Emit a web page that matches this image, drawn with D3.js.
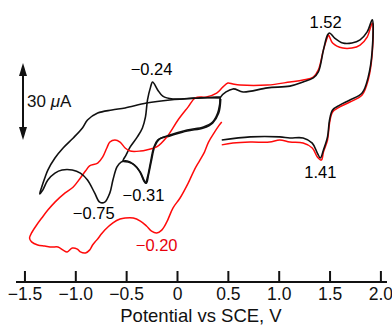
<!DOCTYPE html>
<html>
<head>
<meta charset="utf-8">
<script src="https://cdn.jsdelivr.net/npm/d3@7"></script>
<style>
  html, body { margin: 0; padding: 0; background: #fff; }
  svg { display: block; }
</style>
</head>
<body>
<svg id="chart" width="392" height="327"></svg>
<script>
// potential (V vs SCE) and current (uA) pairs

// black: full scan 0.45 -> -1.35 -> 1.92 -> 0.44 V
const blackFull = [
  [0.43, 16.8], [0.23, 16.4], [-0.07, 15.6], [-0.30, 14.4], [-0.51, 12.5], [-0.64, 11.7],
  [-0.78, 10.5], [-0.88, 7.8], [-0.93, 4.7], [-1.02, 0.8], [-1.12, -3.1], [-1.20, -7.0],
  [-1.27, -11.7], [-1.30, -14.8], [-1.33, -18.3], [-1.35, -21.0],
  [-1.32, -19.5], [-1.27, -15.6], [-1.20, -12.9], [-1.13, -11.7], [-1.03, -11.7], [-0.95, -12.9],
  [-0.88, -15.6], [-0.81, -20.6], [-0.76, -24.2], [-0.71, -24.2], [-0.66, -20.6], [-0.63, -15.6],
  [-0.59, -10.5], [-0.55, -8.6], [-0.49, -8.2], [-0.43, -9.4], [-0.37, -12.1], [-0.33, -15.6],
  [-0.31, -16.8], [-0.29, -14.4], [-0.26, -8.6], [-0.23, -3.1], [-0.19, 0], [-0.07, 1.9],
  [0.10, 3.9], [0.26, 5.1], [0.35, 7.0], [0.40, 10.5], [0.42, 14.0], [0.43, 16.8],
  [0.55, 19.9], [0.65, 18.7], [0.89, 20.3], [1.11, 21.0], [1.24, 22.6], [1.34, 24.2],
  [1.39, 26.5], [1.44, 35.1], [1.48, 40.9], [1.50, 41.7], [1.55, 39.7], [1.63, 37.8],
  [1.72, 37.8], [1.80, 39.0], [1.87, 42.1], [1.92, 46.8],
  [1.92, 35.1], [1.88, 24.5], [1.82, 18.3], [1.70, 15.6], [1.60, 13.6], [1.53, 11.7],
  [1.50, 7.8], [1.48, 1.2], [1.44, -3.9], [1.41, -7.0], [1.38, -5.1], [1.33, -1.2],
  [1.24, 0.8], [1.11, 0.8], [1.01, 1.2], [0.72, 1.2], [0.44, 0]
];

// black: short scan 0.43 -> -0.53 -> 0.43 V
const blackInner = [
  [0.43, 16.4], [0.20, 16.4], [-0.04, 16.0], [-0.14, 17.1], [-0.19, 19.5], [-0.24, 22.6],
  [-0.26, 20.6], [-0.29, 15.6], [-0.31, 9.0], [-0.34, 4.7], [-0.39, 1.2], [-0.46, -2.7],
  [-0.50, -5.8], [-0.53, -8.2], [-0.48, -8.6], [-0.42, -9.7], [-0.36, -12.5], [-0.32, -16.0],
  [-0.30, -16.8], [-0.28, -13.6], [-0.25, -7.8], [-0.22, -2.7], [-0.17, 0.4], [-0.07, 1.6],
  [0.10, 3.5], [0.26, 4.7], [0.35, 6.6], [0.41, 10.5], [0.43, 16.0]
];

// red: 0.44 -> -1.45 -> 1.92 -> 0.44 V
const redScan = [
  [0.44, 7.0], [0.41, 5.5], [0.37, 3.1], [0.31, -0.8], [0.27, -4.7], [0.22, -8.2],
  [0.17, -11.7], [0.11, -16.8], [0.03, -22.6], [-0.04, -26.5], [-0.10, -31.9], [-0.15, -35.1],
  [-0.20, -36.2], [-0.25, -35.5], [-0.30, -33.5], [-0.36, -31.6], [-0.43, -30.4], [-0.51, -30.4],
  [-0.56, -30.8], [-0.63, -32.3], [-0.71, -35.1], [-0.79, -39.0], [-0.83, -40.9], [-0.86, -42.9],
  [-0.90, -44.0], [-0.95, -43.6], [-0.98, -42.5], [-1.03, -42.1], [-1.08, -43.6], [-1.12, -42.9],
  [-1.17, -41.7], [-1.23, -41.7], [-1.30, -41.3], [-1.37, -40.9], [-1.43, -39.7], [-1.45, -38.2],
  [-1.43, -36.2], [-1.38, -33.1], [-1.33, -30.4], [-1.27, -27.3], [-1.20, -24.2], [-1.10, -20.6],
  [-1.02, -18.3], [-0.95, -14.8], [-0.90, -12.1], [-0.86, -10.1], [-0.78, -9.0], [-0.73, -6.6],
  [-0.69, -3.1], [-0.66, -0.8], [-0.61, 0], [-0.56, -0.8], [-0.51, -3.1], [-0.46, -4.3],
  [-0.36, -4.3], [-0.30, -3.9], [-0.20, -2.7], [-0.10, 1.2], [0.01, 7.8], [0.11, 12.9],
  [0.18, 16.4], [0.29, 16.8], [0.39, 18.3], [0.45, 20.6], [0.50, 22.2], [0.55, 21.8],
  [0.62, 21.4], [0.89, 21.4], [1.11, 22.6], [1.24, 23.4], [1.34, 24.5], [1.39, 27.3],
  [1.44, 35.1], [1.48, 40.1], [1.49, 40.9], [1.53, 37.8], [1.63, 35.8], [1.72, 35.8],
  [1.80, 37.0], [1.87, 40.1], [1.92, 45.6],
  [1.92, 33.9], [1.88, 23.4], [1.82, 17.5], [1.70, 14.8], [1.60, 12.9], [1.53, 10.9],
  [1.50, 6.6], [1.48, 0], [1.44, -4.7], [1.42, -7.8], [1.38, -6.6], [1.33, -3.1],
  [1.24, -1.2], [1.11, -0.8], [1.01, 0], [0.91, -0.8], [0.72, -0.8], [0.55, -1.2], [0.44, -1.9]
];

const tickValues = [-1.5, -1.0, -0.5, 0, 0.5, 1.0, 1.5, 2.0];
const tickLabels = ["\u22121.5", "\u22121.0", "\u22120.5", "0", "0.5", "1.0", "1.5", "2.0"];

// peak labels: text, potential, current of the peak, colour
const peakLabels = [
  { text: "\u22120.24", v: -0.24, i: 22.6, color: "#000", dx: -1, dy: -7 },
  { text: "\u22120.31", v: -0.31, i: -16.8, color: "#000", dx: -2, dy: 18 },
  { text: "\u22120.75", v: -0.75, i: -24.2, color: "#000", dx: -7, dy: 17 },
  { text: "\u22120.20", v: -0.20, i: -36.2, color: "#e8000b", dx: 0, dy: 18 },
  { text: "1.52", v: 1.50, i: 41.7, color: "#000", dx: -4, dy: -5 },
  { text: "1.41", v: 1.41, i: -7.0, color: "#000", dx: 0, dy: 20 }
];

const scaleBar = 30; // uA

const svg = d3.select("#chart");
const font = "'Liberation Sans', Arial, Helvetica, sans-serif";

const x = d3.scaleLinear().domain([-1.5, 2.0]).range([24.45, 380.4]);
const y = d3.scaleLinear().domain([-50, 50]).range([268.35, 11.65]);

const line = d3.line()
  .x(d => x(d[0]))
  .y(d => y(d[1]))
  .curve(d3.curveCatmullRom.alpha(0.5));

svg.append("path").datum(blackInner)
  .attr("fill", "none").attr("stroke", "#111").attr("stroke-width", 1.6)
  .attr("d", line);
svg.append("path").datum(redScan)
  .attr("fill", "none").attr("stroke", "#ff0a0a").attr("stroke-width", 1.5)
  .attr("d", line);
svg.append("path").datum(blackFull)
  .attr("fill", "none").attr("stroke", "#111").attr("stroke-width", 1.6)
  .attr("d", line);

// x axis, ticks pointing up
const axisY = 282;
const axis = d3.axisBottom(x)
  .tickValues(tickValues)
  .tickFormat((d, i) => tickLabels[i])
  .tickSizeInner(-11)
  .tickSizeOuter(0)
  .tickPadding(6);

const gx = svg.append("g")
  .attr("transform", `translate(0,${axisY})`)
  .call(axis);
gx.select(".domain").remove();
gx.selectAll(".tick line").attr("stroke", "#111").attr("stroke-width", 2);
gx.selectAll(".tick text")
  .attr("fill", "#111")
  .style("font-family", font)
  .style("font-size", "17.5px");
gx.append("line")
  .attr("x1", 16).attr("x2", 387)
  .attr("stroke", "#111").attr("stroke-width", 2);

svg.append("text")
  .attr("x", 201).attr("y", 322)
  .attr("text-anchor", "middle")
  .style("font-family", font).style("font-size", "18.5px")
  .attr("fill", "#111")
  .text("Potential vs SCE, V");

// 30 uA scale bar with arrow heads
const barX = 23;
const yTop = y(scaleBar), yBot = y(0);
svg.append("line")
  .attr("x1", barX).attr("x2", barX)
  .attr("y1", yTop + 8).attr("y2", yBot - 8)
  .attr("stroke", "#111").attr("stroke-width", 2);
svg.append("path")
  .attr("d", `M${barX},${yTop} L${barX - 4},${yTop + 13} L${barX + 4},${yTop + 13} Z`)
  .attr("fill", "#111");
svg.append("path")
  .attr("d", `M${barX},${yBot} L${barX - 4},${yBot - 13} L${barX + 4},${yBot - 13} Z`)
  .attr("fill", "#111");
const barText = svg.append("text")
  .attr("x", barX + 4).attr("y", (yTop + yBot) / 2 + 6)
  .style("font-family", font).style("font-size", "17px")
  .attr("fill", "#111");
barText.append("tspan").text(scaleBar + " ");
barText.append("tspan").style("font-style", "italic").text("\u03bc");
barText.append("tspan").text("A");

svg.selectAll("text.peak")
  .data(peakLabels)
  .join("text")
  .attr("class", "peak")
  .attr("x", d => x(d.v) + d.dx)
  .attr("y", d => y(d.i) + d.dy)
  .attr("text-anchor", "middle")
  .style("font-family", font).style("font-size", "16.5px")
  .attr("fill", d => d.color)
  .text(d => d.text);
</script>
</body>
</html>
